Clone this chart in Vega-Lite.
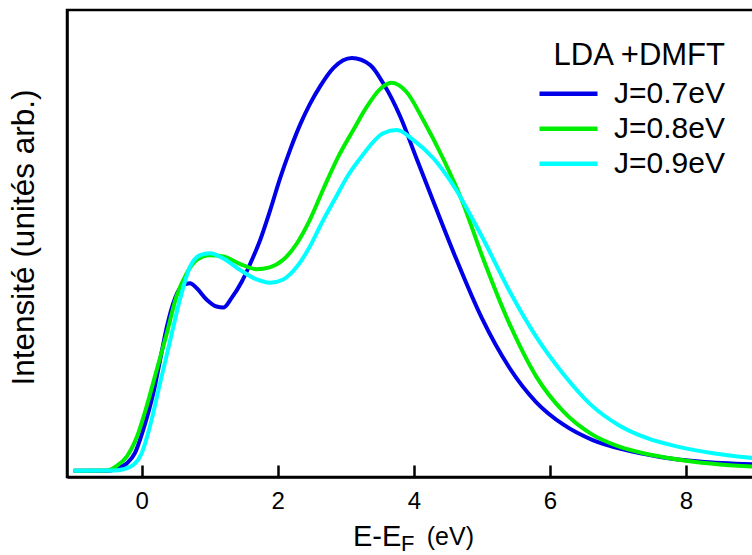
{
  "$schema": "https://vega.github.io/schema/vega-lite/v6.json",
  "width": 687,
  "height": 467,
  "autosize": {"type": "none"},
  "padding": {"left": 67, "top": 10, "right": 0, "bottom": 78},
  "background": "white",
  "config": {
    "view": {"stroke": "black", "strokeWidth": 2.5},
    "font": "Liberation Sans",
    "axisX": {
      "grid": false, "domainColor": "black", "domainWidth": 2.5,
      "tickColor": "black", "tickWidth": 2.5, "tickSize": -12,
      "labelFont": "Liberation Sans", "labelFontSize": 24, "labelColor": "black", "labelPadding": 24
    },
    "axisY": {
      "grid": false, "ticks": false, "labels": false, "domainColor": "black", "domainWidth": 2.5,
      "titleFont": "Liberation Sans", "titleFontSize": 31.5, "titleFontWeight": "normal", "titleColor": "black",
      "titlePadding": 27, "titleY": 227
    }
  },
  "layer": [
    {
      "data": {"values": [
        {"J": "J=0.7eV", "E": -1.0, "I": 1.35}, {"J": "J=0.7eV", "E": -0.6, "I": 1.35}, {"J": "J=0.7eV", "E": -0.45, "I": 1.4},
        {"J": "J=0.7eV", "E": -0.37, "I": 1.85}, {"J": "J=0.7eV", "E": -0.22, "I": 2.9}, {"J": "J=0.7eV", "E": -0.10, "I": 5.1},
        {"J": "J=0.7eV", "E": 0.02, "I": 10}, {"J": "J=0.7eV", "E": 0.17, "I": 17.9}, {"J": "J=0.7eV", "E": 0.27, "I": 25},
        {"J": "J=0.7eV", "E": 0.37, "I": 32.2}, {"J": "J=0.7eV", "E": 0.49, "I": 38.3}, {"J": "J=0.7eV", "E": 0.61, "I": 41.1},
        {"J": "J=0.7eV", "E": 0.71, "I": 41.5}, {"J": "J=0.7eV", "E": 0.81, "I": 40.4}, {"J": "J=0.7eV", "E": 0.96, "I": 37.9},
        {"J": "J=0.7eV", "E": 1.10, "I": 36.5}, {"J": "J=0.7eV", "E": 1.20, "I": 36.3}, {"J": "J=0.7eV", "E": 1.32, "I": 38.3},
        {"J": "J=0.7eV", "E": 1.47, "I": 41.8}, {"J": "J=0.7eV", "E": 1.59, "I": 45.5}, {"J": "J=0.7eV", "E": 1.74, "I": 50.7},
        {"J": "J=0.7eV", "E": 1.89, "I": 57.2}, {"J": "J=0.7eV", "E": 2.03, "I": 63.8}, {"J": "J=0.7eV", "E": 2.18, "I": 70},
        {"J": "J=0.7eV", "E": 2.33, "I": 75.5}, {"J": "J=0.7eV", "E": 2.47, "I": 79.8}, {"J": "J=0.7eV", "E": 2.62, "I": 83.6},
        {"J": "J=0.7eV", "E": 2.82, "I": 87.6}, {"J": "J=0.7eV", "E": 3.09, "I": 89.7}, {"J": "J=0.7eV", "E": 3.36, "I": 88.2},
        {"J": "J=0.7eV", "E": 3.55, "I": 84.3}, {"J": "J=0.7eV", "E": 3.80, "I": 77.2}, {"J": "J=0.7eV", "E": 4.04, "I": 68.2},
        {"J": "J=0.7eV", "E": 4.3, "I": 58.5}, {"J": "J=0.7eV", "E": 4.6, "I": 47.5}, {"J": "J=0.7eV", "E": 5.0, "I": 34},
        {"J": "J=0.7eV", "E": 5.4, "I": 23.5}, {"J": "J=0.7eV", "E": 5.8, "I": 16}, {"J": "J=0.7eV", "E": 6.2, "I": 11.2},
        {"J": "J=0.7eV", "E": 6.63, "I": 7.9}, {"J": "J=0.7eV", "E": 7.1, "I": 5.8}, {"J": "J=0.7eV", "E": 7.62, "I": 4.3},
        {"J": "J=0.7eV", "E": 8.2, "I": 3.3}, {"J": "J=0.7eV", "E": 9.0, "I": 2.7},

        {"J": "J=0.8eV", "E": -1.0, "I": 1.35}, {"J": "J=0.8eV", "E": -0.5, "I": 1.4}, {"J": "J=0.8eV", "E": -0.37, "I": 2.35},
        {"J": "J=0.8eV", "E": -0.22, "I": 4.35}, {"J": "J=0.8eV", "E": -0.07, "I": 8.6}, {"J": "J=0.8eV", "E": 0.07, "I": 15},
        {"J": "J=0.8eV", "E": 0.22, "I": 22.9}, {"J": "J=0.8eV", "E": 0.37, "I": 30.8}, {"J": "J=0.8eV", "E": 0.51, "I": 38.6},
        {"J": "J=0.8eV", "E": 0.66, "I": 43.6}, {"J": "J=0.8eV", "E": 0.81, "I": 46.5}, {"J": "J=0.8eV", "E": 1.00, "I": 47.5},
        {"J": "J=0.8eV", "E": 1.20, "I": 47.2}, {"J": "J=0.8eV", "E": 1.45, "I": 45.6}, {"J": "J=0.8eV", "E": 1.69, "I": 44.5},
        {"J": "J=0.8eV", "E": 1.88, "I": 44.9}, {"J": "J=0.8eV", "E": 2.08, "I": 46.5}, {"J": "J=0.8eV", "E": 2.28, "I": 50},
        {"J": "J=0.8eV", "E": 2.47, "I": 55}, {"J": "J=0.8eV", "E": 2.68, "I": 62}, {"J": "J=0.8eV", "E": 2.89, "I": 68.6},
        {"J": "J=0.8eV", "E": 3.11, "I": 74.3}, {"J": "J=0.8eV", "E": 3.31, "I": 79.3}, {"J": "J=0.8eV", "E": 3.50, "I": 83.0},
        {"J": "J=0.8eV", "E": 3.67, "I": 84.4}, {"J": "J=0.8eV", "E": 3.89, "I": 82.5}, {"J": "J=0.8eV", "E": 4.14, "I": 76.4},
        {"J": "J=0.8eV", "E": 4.43, "I": 68.2}, {"J": "J=0.8eV", "E": 4.7, "I": 59.5}, {"J": "J=0.8eV", "E": 5.0, "I": 47.5},
        {"J": "J=0.8eV", "E": 5.4, "I": 33}, {"J": "J=0.8eV", "E": 5.8, "I": 21.5}, {"J": "J=0.8eV", "E": 6.2, "I": 14},
        {"J": "J=0.8eV", "E": 6.6, "I": 9.3}, {"J": "J=0.8eV", "E": 7.0, "I": 6.6}, {"J": "J=0.8eV", "E": 7.5, "I": 4.7},
        {"J": "J=0.8eV", "E": 8.0, "I": 3.5}, {"J": "J=0.8eV", "E": 8.5, "I": 2.7}, {"J": "J=0.8eV", "E": 9.0, "I": 2.2},

        {"J": "J=0.9eV", "E": -1.0, "I": 1.35}, {"J": "J=0.9eV", "E": -0.4, "I": 1.4}, {"J": "J=0.9eV", "E": -0.27, "I": 1.65},
        {"J": "J=0.9eV", "E": -0.12, "I": 2.6}, {"J": "J=0.9eV", "E": 0.0, "I": 5.1}, {"J": "J=0.9eV", "E": 0.12, "I": 10.8},
        {"J": "J=0.9eV", "E": 0.27, "I": 20.1}, {"J": "J=0.9eV", "E": 0.42, "I": 29.3}, {"J": "J=0.9eV", "E": 0.56, "I": 37.9},
        {"J": "J=0.9eV", "E": 0.71, "I": 45}, {"J": "J=0.9eV", "E": 0.86, "I": 47.5}, {"J": "J=0.9eV", "E": 1.00, "I": 47.9},
        {"J": "J=0.9eV", "E": 1.20, "I": 46.8}, {"J": "J=0.9eV", "E": 1.45, "I": 44.3}, {"J": "J=0.9eV", "E": 1.69, "I": 42.3},
        {"J": "J=0.9eV", "E": 1.88, "I": 41.6}, {"J": "J=0.9eV", "E": 2.08, "I": 42.3}, {"J": "J=0.9eV", "E": 2.28, "I": 45},
        {"J": "J=0.9eV", "E": 2.47, "I": 49.3}, {"J": "J=0.9eV", "E": 2.65, "I": 54.5}, {"J": "J=0.9eV", "E": 2.85, "I": 59.8},
        {"J": "J=0.9eV", "E": 3.03, "I": 64.5}, {"J": "J=0.9eV", "E": 3.21, "I": 68.2}, {"J": "J=0.9eV", "E": 3.55, "I": 73.6},
        {"J": "J=0.9eV", "E": 3.75, "I": 74.3}, {"J": "J=0.9eV", "E": 3.99, "I": 72.2}, {"J": "J=0.9eV", "E": 4.29, "I": 68.2},
        {"J": "J=0.9eV", "E": 4.6, "I": 62}, {"J": "J=0.9eV", "E": 5.0, "I": 51.5}, {"J": "J=0.9eV", "E": 5.4, "I": 40},
        {"J": "J=0.9eV", "E": 5.8, "I": 30}, {"J": "J=0.9eV", "E": 6.2, "I": 22}, {"J": "J=0.9eV", "E": 6.6, "I": 15.5},
        {"J": "J=0.9eV", "E": 7.0, "I": 11.2}, {"J": "J=0.9eV", "E": 7.43, "I": 8.3}, {"J": "J=0.9eV", "E": 7.91, "I": 6.4},
        {"J": "J=0.9eV", "E": 8.4, "I": 5.1}, {"J": "J=0.9eV", "E": 9.0, "I": 4.05}
      ]},
      "mark": {"type": "line", "interpolate": "monotone", "strokeWidth": 4},
      "encoding": {
        "x": {
          "field": "E", "type": "quantitative",
          "scale": {"domain": [-1.098, 9.0], "nice": false, "zero": false},
          "axis": {"values": [0, 2, 4, 6, 8], "format": "d", "title": null}
        },
        "y": {
          "field": "I", "type": "quantitative",
          "scale": {"domain": [0, 100], "nice": false, "zero": false},
          "axis": {"title": "Intensité (unités arb.)"}
        },
        "color": {
          "field": "J", "type": "nominal",
          "scale": {"domain": ["J=0.7eV", "J=0.8eV", "J=0.9eV"], "range": ["#0000e8", "#00ee00", "#00ffff"]},
          "legend": {
            "orient": "none", "legendX": 470, "legendY": 31, "padding": 0,
            "title": "LDA +DMFT", "titleFont": "Liberation Sans", "titleFontSize": 31, "titleFontWeight": "normal",
            "titleColor": "black", "titleAnchor": "end", "titlePadding": 4.2,
            "labelFont": "Liberation Sans", "labelFontSize": 30, "labelColor": "black", "labelOffset": 14,
            "symbolType": "stroke", "symbolSize": 3364, "symbolStrokeWidth": 4.5, "rowPadding": 0, "clipHeight": 35
          }
        }
      }
    },
    {
      "data": {"values": [{}]},
      "mark": {"type": "text", "text": "E-E", "fontSize": 29, "align": "left", "baseline": "alphabetic", "font": "Liberation Sans", "color": "black"},
      "encoding": {
        "x": {"datum": 3.105, "type": "quantitative"},
        "y": {"datum": -14.7, "type": "quantitative"}
      }
    },
    {
      "data": {"values": [{}]},
      "mark": {"type": "text", "text": "F", "fontSize": 22, "align": "left", "baseline": "alphabetic", "font": "Liberation Sans", "color": "black"},
      "encoding": {
        "x": {"datum": 3.81, "type": "quantitative"},
        "y": {"datum": -15.8, "type": "quantitative"}
      }
    },
    {
      "data": {"values": [{}]},
      "mark": {"type": "text", "text": "(eV)", "fontSize": 25, "align": "left", "baseline": "alphabetic", "font": "Liberation Sans", "color": "black"},
      "encoding": {
        "x": {"datum": 4.19, "type": "quantitative"},
        "y": {"datum": -14.6, "type": "quantitative"}
      }
    }
  ]
}
